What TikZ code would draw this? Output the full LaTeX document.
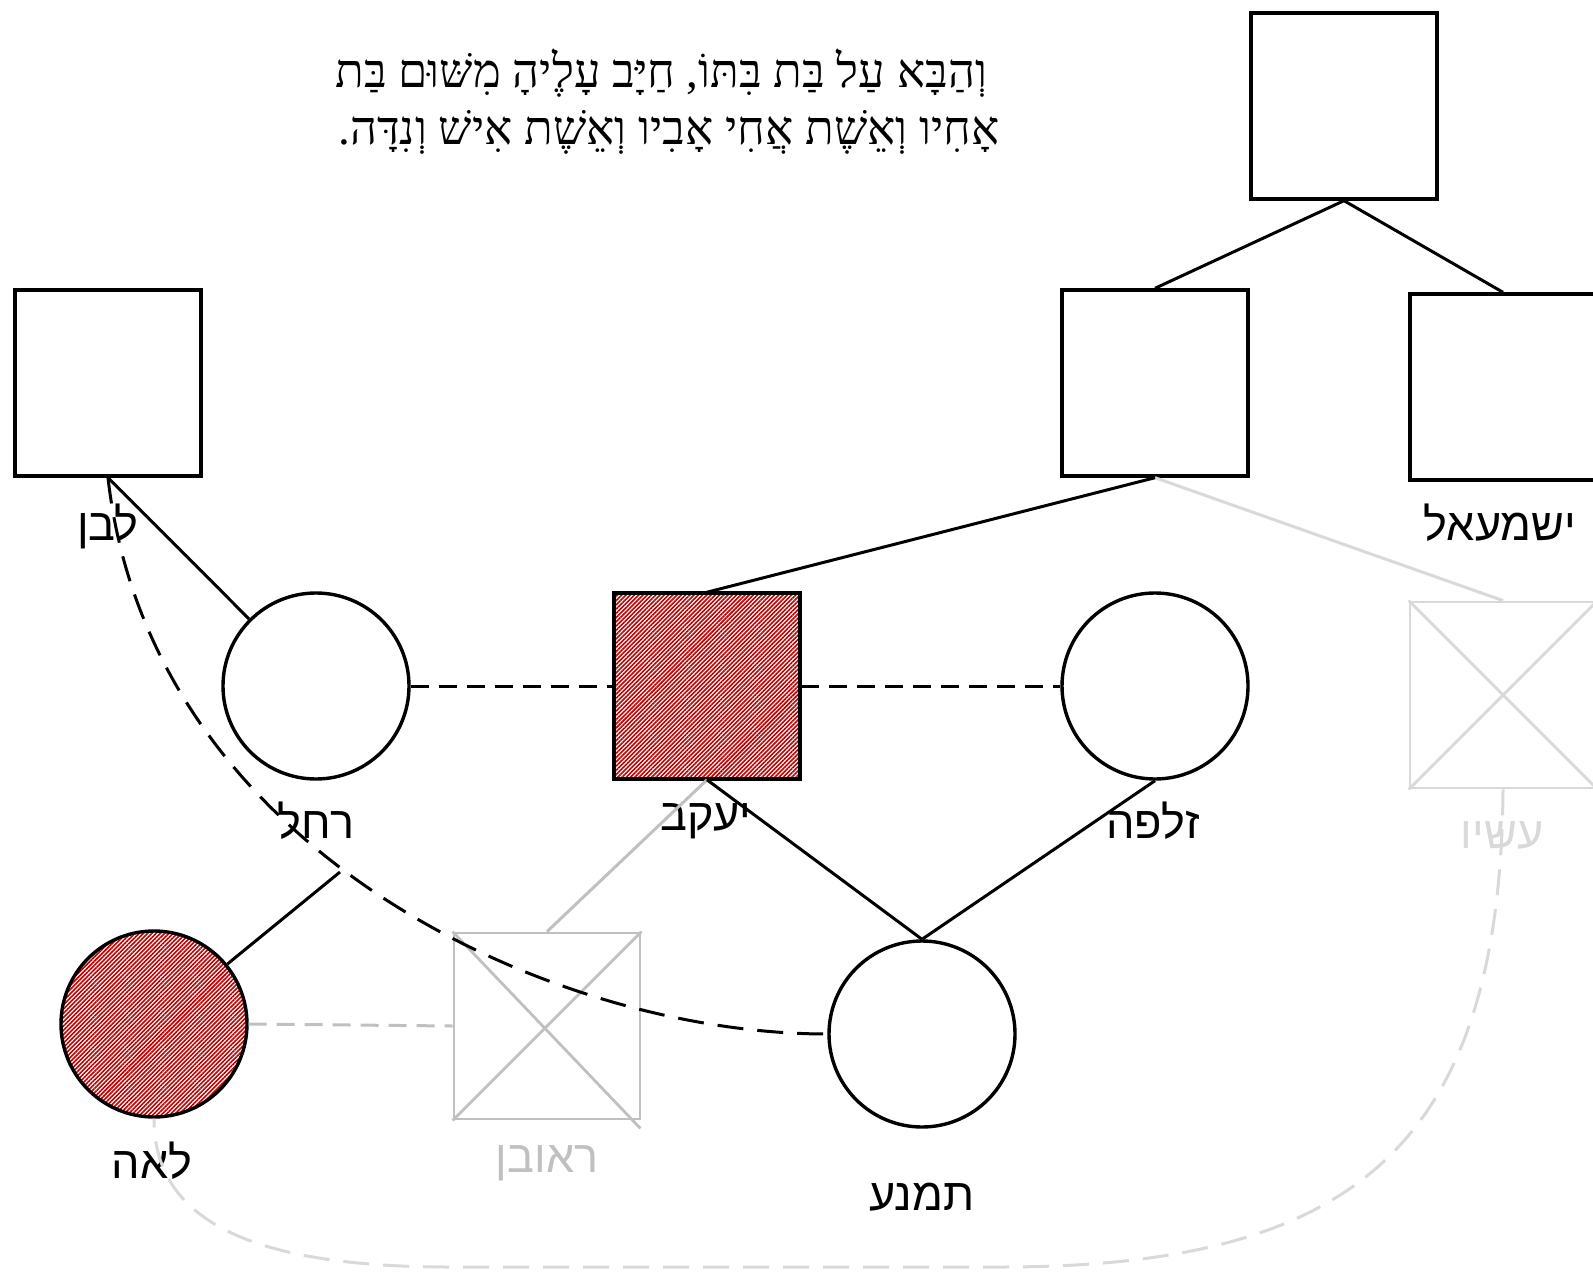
\documentclass[tikz,border=0pt]{standalone}
\usepackage{fontspec}
\setmainfont{Liberation Sans}
\newfontfamily\hebsans[Script=Hebrew]{Liberation Sans}
\newfontfamily\hebserif[Script=Hebrew]{Liberation Serif}
\TeXXeTstate=1
\usetikzlibrary{patterns.meta}
\definecolor{hatchred}{RGB}{190,0,0}
\definecolor{ghostdark}{RGB}{192,192,192}
\definecolor{ghostlight}{RGB}{217,217,217}

\begin{document}
\begin{tikzpicture}[x=0.5pt,y=-0.5pt,
	male/.style={draw,line width=1.7pt,minimum size=93pt,inner sep=0pt},
	female/.style={draw,circle,line width=1.7pt,minimum size=93pt,inner sep=0pt},
	marked/.style={pattern={Lines[angle=45,distance=1.5pt,line width=0.8pt]},pattern color=hatchred},
	gone/.style={draw=#1,line width=1.4pt,minimum size=93pt,inner sep=0pt},
	who/.style={font=\hebsans\fontsize{22.5}{24}\selectfont,inner sep=0pt},
	verse/.style={anchor=base west,inner sep=0pt,font=\hebserif\fontsize{23.5}{26}\selectfont},
	tie/.style={line width=1.5pt},
	wed/.style={line width=1.5pt,dash pattern=on 9pt off 5pt}]
	\useasboundingbox (0,0) rectangle (1593,1272);

	% text
	\node[verse] (verse1) at (335,88) {\beginR וְהַבָּא עַל בַּת בִּתּוֹ, חַיָּב עָלֶיהָ מִשּׁוּם בַּת\endR};
	\node[verse] (verse2) at (338,145) {\beginR אָחִיו וְאֵשֶׁת אֲחִי אָבִיו וְאֵשֶׁת אִישׁ וְנִדָּה.\endR};

	% people
	\node[male] (abraham) at (1344,106) {};
	\node[male] (isaac) at (1155,383) {};
	\node[male] (ishmael) at (1503,387) {};
	\node[male] (laban) at (108,383) {};
	\node[male,marked] (jacob) at (707,686) {};
	\node[gone=ghostlight] (esau) at (1503,695) {};
	\node[female] (rachel) at (316,686) {};
	\node[female] (zilpah) at (1155,686) {};
	\node[female,marked] (leah) at (154,1024) {};
	\node[gone=ghostdark] (reuben) at (547,1026) {};
	\node[female] (timna) at (922,1034) {};
	\coordinate (rachelfoot) at (340,872);

	% names
	\node[who] (labanname) at (108,526) {לבן};
	\node[who] (ishmaelname) at (1500,523) {ישמעאל};
	\node[who] (rachelname) at (316,821) {רחל};
	\node[who] (jacobname) at (706,821) {יעקב};
	\node[who] (zilpahname) at (1153,821) {זלפה};
	\node[who,text=ghostlight] (esauname) at (1502,835) {עשיו};
	\node[who] (leahname) at (152,1161) {לאה};
	\node[who,text=ghostdark] (reubenname) at (547,1163) {ראובן};
	\node[who] (timnaname) at (922,1197) {תמנע};

	% crossed out
	\draw[ghostlight,line width=1.4pt] (esau.north west) -- (esau.south east) (esau.north east) -- (esau.south west);
	\draw[ghostdark,line width=1.4pt] (reuben.north west) -- ([shift={(-1,8)}]reuben.south east) (reuben.north east) -- (reuben.south west);

	% faded links
	\path[tie,ghostlight]
	(isaac.south) edge (esau.north);
	\path[tie,ghostdark]
	(jacob.south) edge (reuben.north);
	\path[wed,ghostdark]
	(leah.east) edge (reuben.west);
	\draw[wed,ghostlight,dash pattern=on 13pt off 7pt]
	(esau.south) .. controls (1500,1150) and (1350,1267) .. (1000,1267)
	-- (450,1267) .. controls (250,1267) and (154,1220) .. (leah.south);

	% links
	\path[tie]
	(abraham.south) edge (isaac.north)
	(abraham.south) edge (ishmael.north)
	(isaac.south) edge (jacob.north)
	(laban.south) edge (rachel)
	(rachelfoot) edge (leah)
	(jacob.south) edge (timna.north)
	(zilpah.south) edge (timna.north);
	\path[wed]
	(rachel.east) edge (jacob.west)
	(jacob.east) edge (zilpah.west);
	\draw[wed,dash pattern=on 13pt off 7pt]
	(laban.south) .. controls (150,850) and (550,1034) .. (timna.west);
\end{tikzpicture}
\end{document}
